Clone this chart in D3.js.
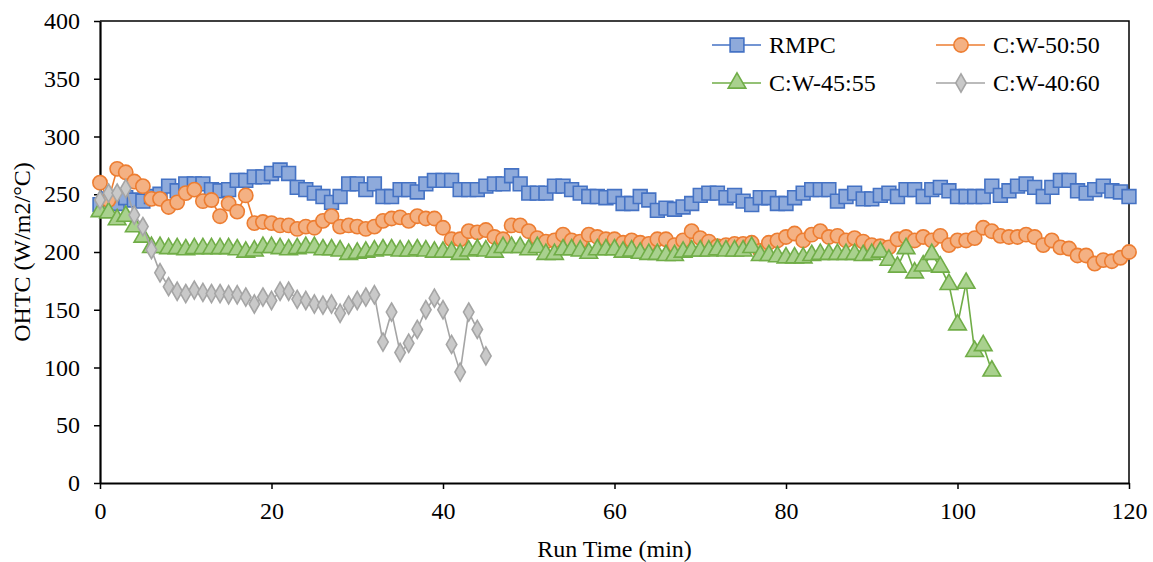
<!DOCTYPE html>
<html>
<head>
<meta charset="utf-8">
<script src="https://cdn.jsdelivr.net/npm/d3@7"></script>
<style>
  body { margin: 0; background: #fff; }
  svg text { font-family: "Liberation Serif", "Times New Roman", serif; fill: #000; }
</style>
</head>
<body>
<div id="chart"></div>
<script>
// Values, one point per minute
const rmpc = [241,246,242,247,245,244,248,250,257,253,259,259,259,254,253,254,262,262,265,265,
  268,271,268,256,254,251,248,243,248,259,259,254,259,248,248,254,254,252,259,262,
  262,262,254,254,254,257,259,259,266,259,251,251,251,257,257,254,251,248,248,247,
  248,242,242,248,245,236,238,237,239,242,249,251,251,247,249,244,241,247,247,242,
  242,247,251,254,254,254,244,248,251,246,246,249,251,248,254,254,248,254,256,253,
  248,248,248,248,257,249,253,257,259,256,248,256,262,262,253,251,254,257,253,252,248];

const cw5050 = [260,245,272,269,261,257,246,246,239,243,251,254,244,245,231,242,235,249,225,226,
  225,223,223,220,222,221,227,231,222,223,222,220,222,227,229,230,227,231,229,229,
  221,211,211,218,217,219,213,211,223,223,218,212,209,210,215,210,209,215,213,211,
  211,208,210,208,207,211,211,206,210,218,212,209,205,206,207,207,208,201,208,210,
  213,216,210,215,218,213,214,210,212,209,206,205,204,211,213,210,213,210,214,206,
  210,210,212,221,218,214,213,213,215,213,206,210,204,203,197,197,190,193,192,195,200];

const cw4555 = [235,234,228,231,222,213,204,204,203,203,202,203,203,203,203,203,202,200,201,204,
  204,203,202,203,204,204,202,202,201,198,199,200,201,202,202,201,201,202,201,200,
  200,200,198,201,202,201,200,204,204,204,202,204,198,198,202,202,201,199,202,202,
  202,200,201,199,198,198,197,197,200,201,201,201,202,201,201,201,204,197,197,196,
  195,195,195,197,198,198,198,198,198,197,198,200,193,187,203,182,188,198,187,172,
  137,173,114,119,97];

const cw4060 = [245,251,251,255,232,222,202,182,170,166,164,167,165,164,164,163,163,161,155,161,
  158,166,166,159,158,155,154,155,147,154,158,161,163,122,148,113,121,133,150,160,
  150,120,96,148,133,110];

const seriesNames = ["RMPC", "C:W-50:50", "C:W-45:55", "C:W-40:60"];
const xTicks = [0, 20, 40, 60, 80, 100, 120];
const yTicks = [0, 50, 100, 150, 200, 250, 300, 350, 400];

const width = 1153, height = 562;
const margin = {top: 21, right: 24, bottom: 79, left: 100};

const series = [
  {name: seriesNames[0], values: rmpc,   stroke: "#4472c4", fill: "#8eaadb", shape: d3.symbolSquare,   size: 190},
  {name: seriesNames[1], values: cw5050, stroke: "#ed7d31", fill: "#f4b183", shape: d3.symbolCircle,   size: 160},
  {name: seriesNames[2], values: cw4555, stroke: "#70ad47", fill: "#a9d18e", shape: d3.symbolTriangle, size: 135},
  {name: seriesNames[3], values: cw4060, stroke: "#a5a5a5", fill: "#c9c9c9", shape: d3.symbolDiamond,  size: 95}
];

const svg = d3.select("#chart").append("svg")
  .attr("width", width)
  .attr("height", height);

const x = d3.scaleLinear().domain([0, 120]).range([margin.left, width - margin.right]);
const y = d3.scaleLinear().domain([0, 400]).range([height - margin.bottom, margin.top]);

// plot frame (top and right)
svg.append("path")
  .attr("d", `M${x(0)},${y(400)}H${x(120)}V${y(0)}`)
  .attr("fill", "none")
  .attr("stroke", "#000")
  .attr("stroke-width", 1.5);

const xAxis = svg.append("g")
  .attr("transform", `translate(0,${y(0)})`)
  .call(d3.axisBottom(x).tickValues(xTicks).tickSize(6).tickSizeOuter(0).tickPadding(13));

const yAxis = svg.append("g")
  .attr("transform", `translate(${x(0)},0)`)
  .call(d3.axisLeft(y).tickValues(yTicks).tickSize(6).tickSizeOuter(0).tickPadding(14));

[xAxis, yAxis].forEach(g => {
  g.select(".domain").attr("stroke", "#000").attr("stroke-width", 2.2);
  g.selectAll(".tick line").attr("stroke", "#000").attr("stroke-width", 1.5);
  g.selectAll(".tick text").style("font-size", "24px").style("font-family", "Liberation Serif");
});

const line = d3.line()
  .x((d, i) => x(i))
  .y(d => y(d));

series.forEach(s => {
  const g = svg.append("g");
  g.append("path")
    .datum(s.values)
    .attr("fill", "none")
    .attr("stroke", s.stroke)
    .attr("stroke-width", 1.6)
    .attr("d", line);
  g.selectAll("path.m")
    .data(s.values)
    .join("path")
    .attr("class", "m")
    .attr("transform", (d, i) => `translate(${x(i)},${y(d)})`)
    .attr("d", d3.symbol().type(s.shape).size(s.size))
    .attr("fill", s.fill)
    .attr("stroke", s.stroke)
    .attr("stroke-width", 1.6);
});

// legend, two columns
const legend = svg.append("g");
series.forEach((s, i) => {
  const lx = i % 2 === 0 ? 712 : 936;
  const ly = i < 2 ? 45 : 83;
  const item = legend.append("g").attr("transform", `translate(${lx},${ly})`);
  item.append("line")
    .attr("x1", 0).attr("x2", 49)
    .attr("stroke", s.stroke).attr("stroke-width", 1.6);
  item.append("path")
    .attr("transform", "translate(25,0)")
    .attr("d", d3.symbol().type(s.shape).size(s.size))
    .attr("fill", s.fill)
    .attr("stroke", s.stroke)
    .attr("stroke-width", 1.6);
  item.append("text")
    .attr("x", 57)
    .attr("dy", "0.35em")
    .style("font-size", "24px")
    .text(s.name);
});

svg.append("text")
  .attr("x", (x(0) + x(120)) / 2)
  .attr("y", 557)
  .attr("text-anchor", "middle")
  .style("font-size", "24px")
  .text("Run Time (min)");

svg.append("text")
  .attr("transform", `translate(30,${(y(0) + y(400)) / 2}) rotate(-90)`)
  .attr("text-anchor", "middle")
  .style("font-size", "24px")
  .text("OHTC (W/m2/°C)");
</script>
</body>
</html>
